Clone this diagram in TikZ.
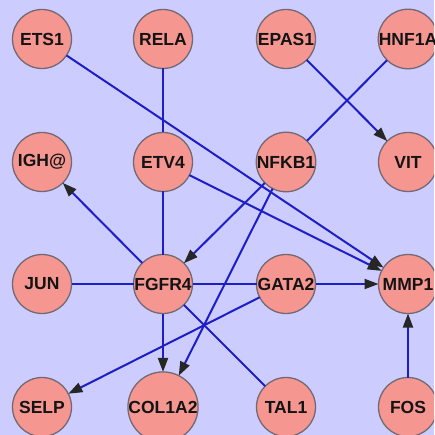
\documentclass[tikz,border=0pt]{standalone}
\usepackage{fontspec}
\setmainfont{Liberation Sans}
\usetikzlibrary{arrows.meta}
\definecolor{bg}{RGB}{204,204,255}
\definecolor{genefill}{RGB}{245,150,145}
\definecolor{generim}{RGB}{115,105,115}
\definecolor{edgeblue}{RGB}{30,30,200}
\tikzset{
  gene/.style={circle, draw=generim, line width=1.3pt, fill=genefill,
    minimum size=59pt, inner sep=0pt, outer sep=0pt,
    font=\fontsize{17.5}{19}\selectfont\bfseries, text=black!92},
  link/.style={draw=edgeblue, line width=2pt},
  act/.style={link, -{Triangle[length=14pt, width=10pt, color=black!85]}}
}
\begin{document}
\begin{tikzpicture}[x=1pt, y=-1pt]
  \fill[bg] (0,0) rectangle (434,435);
  \useasboundingbox (0,0) rectangle (434,435);
  \clip (0,0) rectangle (434,435);

  % gene nodes on a 4 x 4 grid
  \node[gene] (ets1)   at (42,39)   {ETS1};
  \node[gene] (rela)   at (163,39)  {RELA};
  \node[gene] (epas1)  at (286,39)  {EPAS1};
  \node[gene] (hnf1a)  at (408,39)  {HNF1A};
  \node[gene] (igh)    at (42,162)  {IGH@};
  \node[gene] (etv4)   at (163,162) {ETV4};
  \node[gene] (nfkb1)  at (286,162) {NFKB1};
  \node[gene] (vit)    at (408,162) {VIT};
  \node[gene] (jun)    at (42,284)  {JUN};
  \node[gene] (fgfr4)  at (163,284) {FGFR4};
  \node[gene] (gata2)  at (286,284) {GATA2};
  \node[gene] (mmp1)   at (408,284) {MMP1};
  \node[gene] (selp)   at (42,407)  {SELP};
  \node[gene] (col1a2) at (163,407) {COL1A2};
  \node[gene] (tal1)   at (286,407) {TAL1};
  \node[gene] (fos)    at (408,407) {FOS};

  % interactions, clipped at the node borders
  \path[act]  (ets1)  -- (mmp1);
  \path[link] (rela)  -- (etv4);
  \path[act]  (epas1) -- (vit);
  \path[link] (hnf1a) -- (nfkb1);
  \path[act]  (nfkb1) -- (fgfr4);
  \path[act]  (nfkb1) -- (col1a2);
  \path[link] (etv4)  -- (fgfr4);
  \path[act]  (etv4)  -- (mmp1);
  \path[act]  (fgfr4) -- (igh);
  \path[link] (jun)   -- (fgfr4);
  \path[link] (fgfr4) -- (gata2);
  \path[act]  (gata2) -- (mmp1);
  \path[act]  (fgfr4) -- (col1a2);
  \path[link] (fgfr4) -- (tal1);
  \path[act]  (gata2) -- (selp);
  \path[act]  (fos)   -- (mmp1);
\end{tikzpicture}
\end{document}
